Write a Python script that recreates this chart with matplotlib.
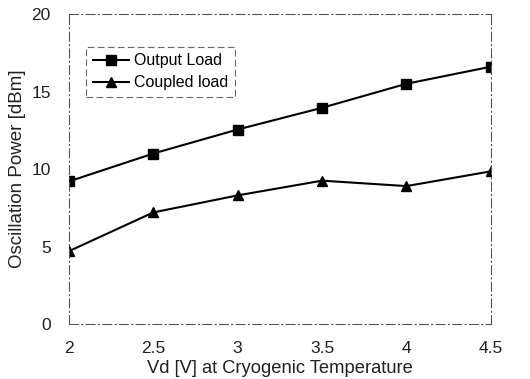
import numpy as np
import matplotlib
matplotlib.use("Agg")
import matplotlib.pyplot as plt

plt.rcParams['font.family'] = ['Liberation Sans', 'DejaVu Sans']

# values
vd = [2, 2.5, 3, 3.5, 4, 4.5]
output_load = [9.2, 11.0, 12.55, 13.95, 15.5, 16.6]
coupled_load = [4.7, 7.2, 8.3, 9.25, 8.9, 9.85]
x_ticks = [2, 2.5, 3, 3.5, 4, 4.5]
y_ticks = [0, 5, 10, 15, 20]

fig = plt.figure(figsize=(5.3, 3.79), dpi=100)
ax = fig.add_axes([0.130, 0.145, 0.796, 0.818])

ax.plot(vd, output_load, color='black', lw=1.5, marker='s', ms=7,
        label='Output Load')
ax.plot(vd, coupled_load, color='black', lw=1.5, marker='^', ms=7,
        label='Coupled load')

ax.set_xlim(2, 4.5)
ax.set_ylim(0, 20)
ax.set_xticks(x_ticks)
ax.set_xticklabels(['2', '2.5', '3', '3.5', '4', '4.5'])
ax.set_yticks(y_ticks)
ax.tick_params(length=0, labelsize=12.5, colors='#222222')
ax.tick_params(axis='x', pad=12)
ax.tick_params(axis='y', pad=13)

# scanned dash-dot frame
for side in ['top', 'right', 'bottom', 'left']:
    ax.spines[side].set_linestyle((0, (8, 3, 1, 3)))
    ax.spines[side].set_linewidth(0.8)
    ax.spines[side].set_color('#555555')

ax.set_xlabel('Vd [V] at Cryogenic Temperature', fontsize=13.2,
              color='#222222')
ax.xaxis.set_label_coords(0.5, -0.117)
ax.set_ylabel('Oscillation Power [dBm]', fontsize=13.5, color='#222222',
              labelpad=4)

leg = ax.legend(loc='upper left', bbox_to_anchor=(0.022, 0.92),
                fontsize=11.5, frameon=True, fancybox=False,
                handlelength=2.3, borderpad=0.4, labelspacing=0.45,
                handletextpad=0.3)
leg.get_frame().set_edgecolor('#444444')
leg.get_frame().set_linestyle((0, (6, 3)))
leg.get_frame().set_linewidth(0.8)

fig.savefig('out.png', dpi=100)
